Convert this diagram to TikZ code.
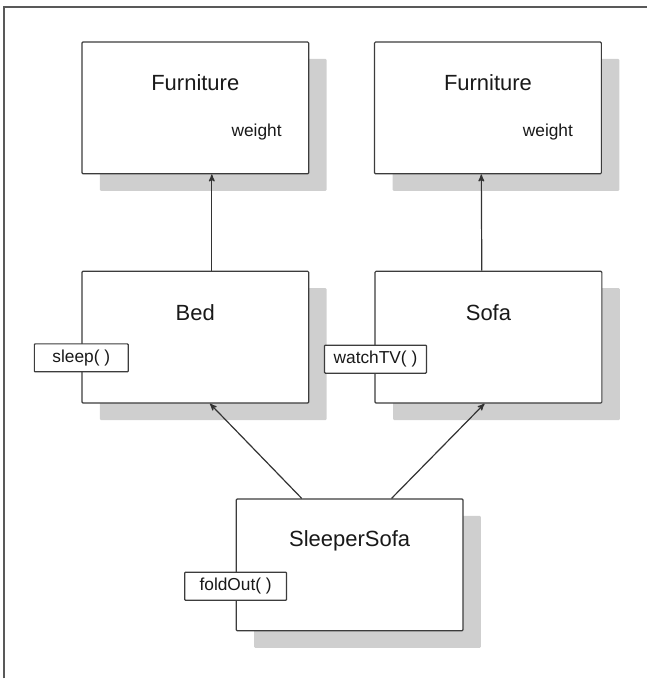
\documentclass[tikz,border=0pt]{standalone}
\usepackage{fontspec}
\setmainfont{Liberation Sans}
\usetikzlibrary{arrows, shadows, positioning}
\definecolor{shadowgray}{HTML}{CFCFCF}
\definecolor{linegray}{HTML}{3C3C3C}

\begin{document}
\begin{tikzpicture}[->,>=stealth',x=0.75pt,y=-0.75pt,
                    semithick, text=black!90]
  \tikzstyle{class}=[draw=linegray,fill=white,line width=0.9pt,rounded corners=0.8pt,
                     minimum width=170.25pt,minimum height=99pt,
                     drop shadow={shadow xshift=13.5pt,shadow yshift=-12.75pt,
                                  fill=shadowgray,opacity=1}]
  \tikzstyle{title}=[font=\fontsize{16.5}{20}\selectfont]
  \tikzstyle{attr}=[font=\fontsize{13}{16}\selectfont]
  \tikzstyle{method}=[draw=linegray,fill=white,line width=0.9pt,rounded corners=0.6pt,
                      font=\fontsize{13}{16}\selectfont,minimum width=76.5pt,
                      minimum height=21pt,inner sep=2pt]
  \tikzstyle{conn}=[draw=black!80,line width=0.9pt]

  \path (0,0) (649,679);
  \draw[-,line width=1.1pt,draw=black!65] (4,679) -- (4,7) -- (648,7);

  \node[class] (f1)   at (195.5,108)   {};
  \node[class] (f2)   at (488.5,108)   {};
  \node[class] (bed)  at (195.5,337.5) {};
  \node[class] (sofa) at (489,337.5)   {};
  \node[class] (ss)   at (350,565.5)   {};

  \node[title] (f1t)   at ([yshift=-30.75pt]f1.north)   {Furniture};
  \node[title] (f2t)   at ([yshift=-30.75pt]f2.north)   {Furniture};
  \node[title] (bedt)  at ([yshift=-31.5pt]bed.north)   {Bed};
  \node[title] (sofat) at ([yshift=-31.5pt]sofa.north)  {Sofa};
  \node[title] (sst)   at ([yshift=-31.5pt]ss.north)    {SleeperSofa};

  \node[attr] (f1w) at ([xshift=46pt,yshift=-68.25pt]f1.north) {weight};
  \node[attr] (f2w) at ([xshift=45pt,yshift=-68.25pt]f2.north) {weight};

  \node[method,minimum width=70.5pt] (sleep) at ([yshift=-65.5pt]bed.north west)  {sleep( )};
  \node[method] (watch) at ([xshift=0.75pt,yshift=-66.5pt]sofa.north west) {watchTV( )};
  \node[method] (fold)  at ([yshift=-66pt]ss.north west)   {foldOut( )};

  \path ([xshift=12.4pt]bed.north)  edge[conn] ([xshift=12.4pt]f1.south)
        ([xshift=-5pt]sofa.north)   edge[conn] ([xshift=-5pt]f2.south)
        ([xshift=-36pt]ss.north)    edge[conn] ([xshift=11pt]bed.south)
        ([xshift=31.5pt]ss.north)   edge[conn] ([xshift=-3pt]sofa.south);
\end{tikzpicture}
\end{document}
